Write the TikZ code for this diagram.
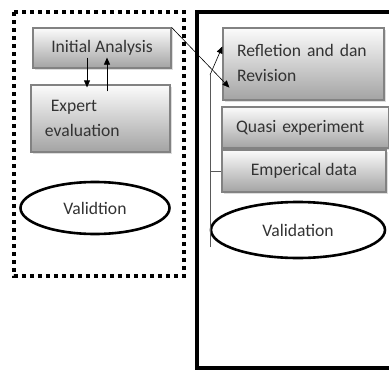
\documentclass[tikz,border=0pt]{standalone}
\usepackage{fontspec}
\setmainfont{Carlito}
\usetikzlibrary{arrows.meta,positioning,calc,shadows,shapes.geometric}
\definecolor{Txt}{HTML}{333333}
\definecolor{Rim}{HTML}{828282}
\tikzset{
  stagebox/.style={draw=Rim,line width=1.2pt,top color=gray!3,bottom color=gray!72,
    text=Txt,font=\fontsize{17.6}{25}\selectfont,inner xsep=14pt,
    drop shadow={shadow xshift=1.5pt,shadow yshift=-1.5pt,fill=gray!45,opacity=.6}},
  checkoval/.style={draw=black,line width=2.6pt,ellipse,fill=white,text=Txt,
    font=\fontsize{17.6}{25}\selectfont,inner sep=0pt},
  flow/.style={-{Triangle[length=7pt,width=6pt]},black,line width=0.7pt},
  thin/.style={draw=gray!70!black,line width=0.9pt}
}
\begin{document}
\begin{tikzpicture}[x=1pt,y=-1pt]
\useasboundingbox (0,0) rectangle (389,370);
% frames of the two phases
\draw[line width=3.6pt,dash pattern=on 3.6pt off 4.4pt] (14,12) rectangle (184,276);
\begin{scope}
\clip (0,0) rectangle (389,370);
\draw[line width=3.5pt] (400,12) -- (197,12) -- (197,368) -- (400,368);
\end{scope}
% left phase
\node[stagebox,minimum width=138pt,minimum height=40pt] (init) at (102,48) {Initial Analysis};
\node[stagebox,minimum width=139pt,minimum height=67pt,text width=111pt,align=left] (expert) at (100.5,118.5) {\ Expert\\evaluation};
\node[checkoval,minimum width=149pt,minimum height=52pt] (valL) at (95,208) {Validtion};
% right phase
\node[stagebox,minimum width=161pt,minimum height=72pt,text width=133pt,align=left] (refl) at (303.5,64) {Refletion and dan\\Revision\vphantom{g}\\[-8pt]};
\node[stagebox,minimum width=167pt,minimum height=41pt,text width=139pt,align=left] (quasi) at (305.5,127.5) {Quasi experiment};
\node[stagebox,minimum width=164pt,minimum height=42pt] (emp) at (304,171) {Emperical data};
\node[checkoval,minimum width=174pt,minimum height=56pt] (valR) at (298,230) {Validation};
% connectors
\draw[flow] ([xshift=-15pt,yshift=11pt]init.south) -- ([xshift=-13.5pt,yshift=-3pt]expert.north);
\draw[flow] ([xshift=6.5pt,yshift=-7pt]expert.north) -- ([xshift=5pt,yshift=11pt]init.south);
\coordinate (bend) at (210,75);
\coordinate (foot) at (210,247);
\draw[flow,line width=0.6pt] (init.north east) -- ([xshift=7pt,yshift=13pt]refl.south west);
\draw[thin] (foot) -- (bend);
\draw[flow,line width=0.6pt] (bend) -- ([yshift=-19pt]refl.north west);
\draw[thin] (bend |- emp.west) -- (emp.west);
\end{tikzpicture}
\end{document}
